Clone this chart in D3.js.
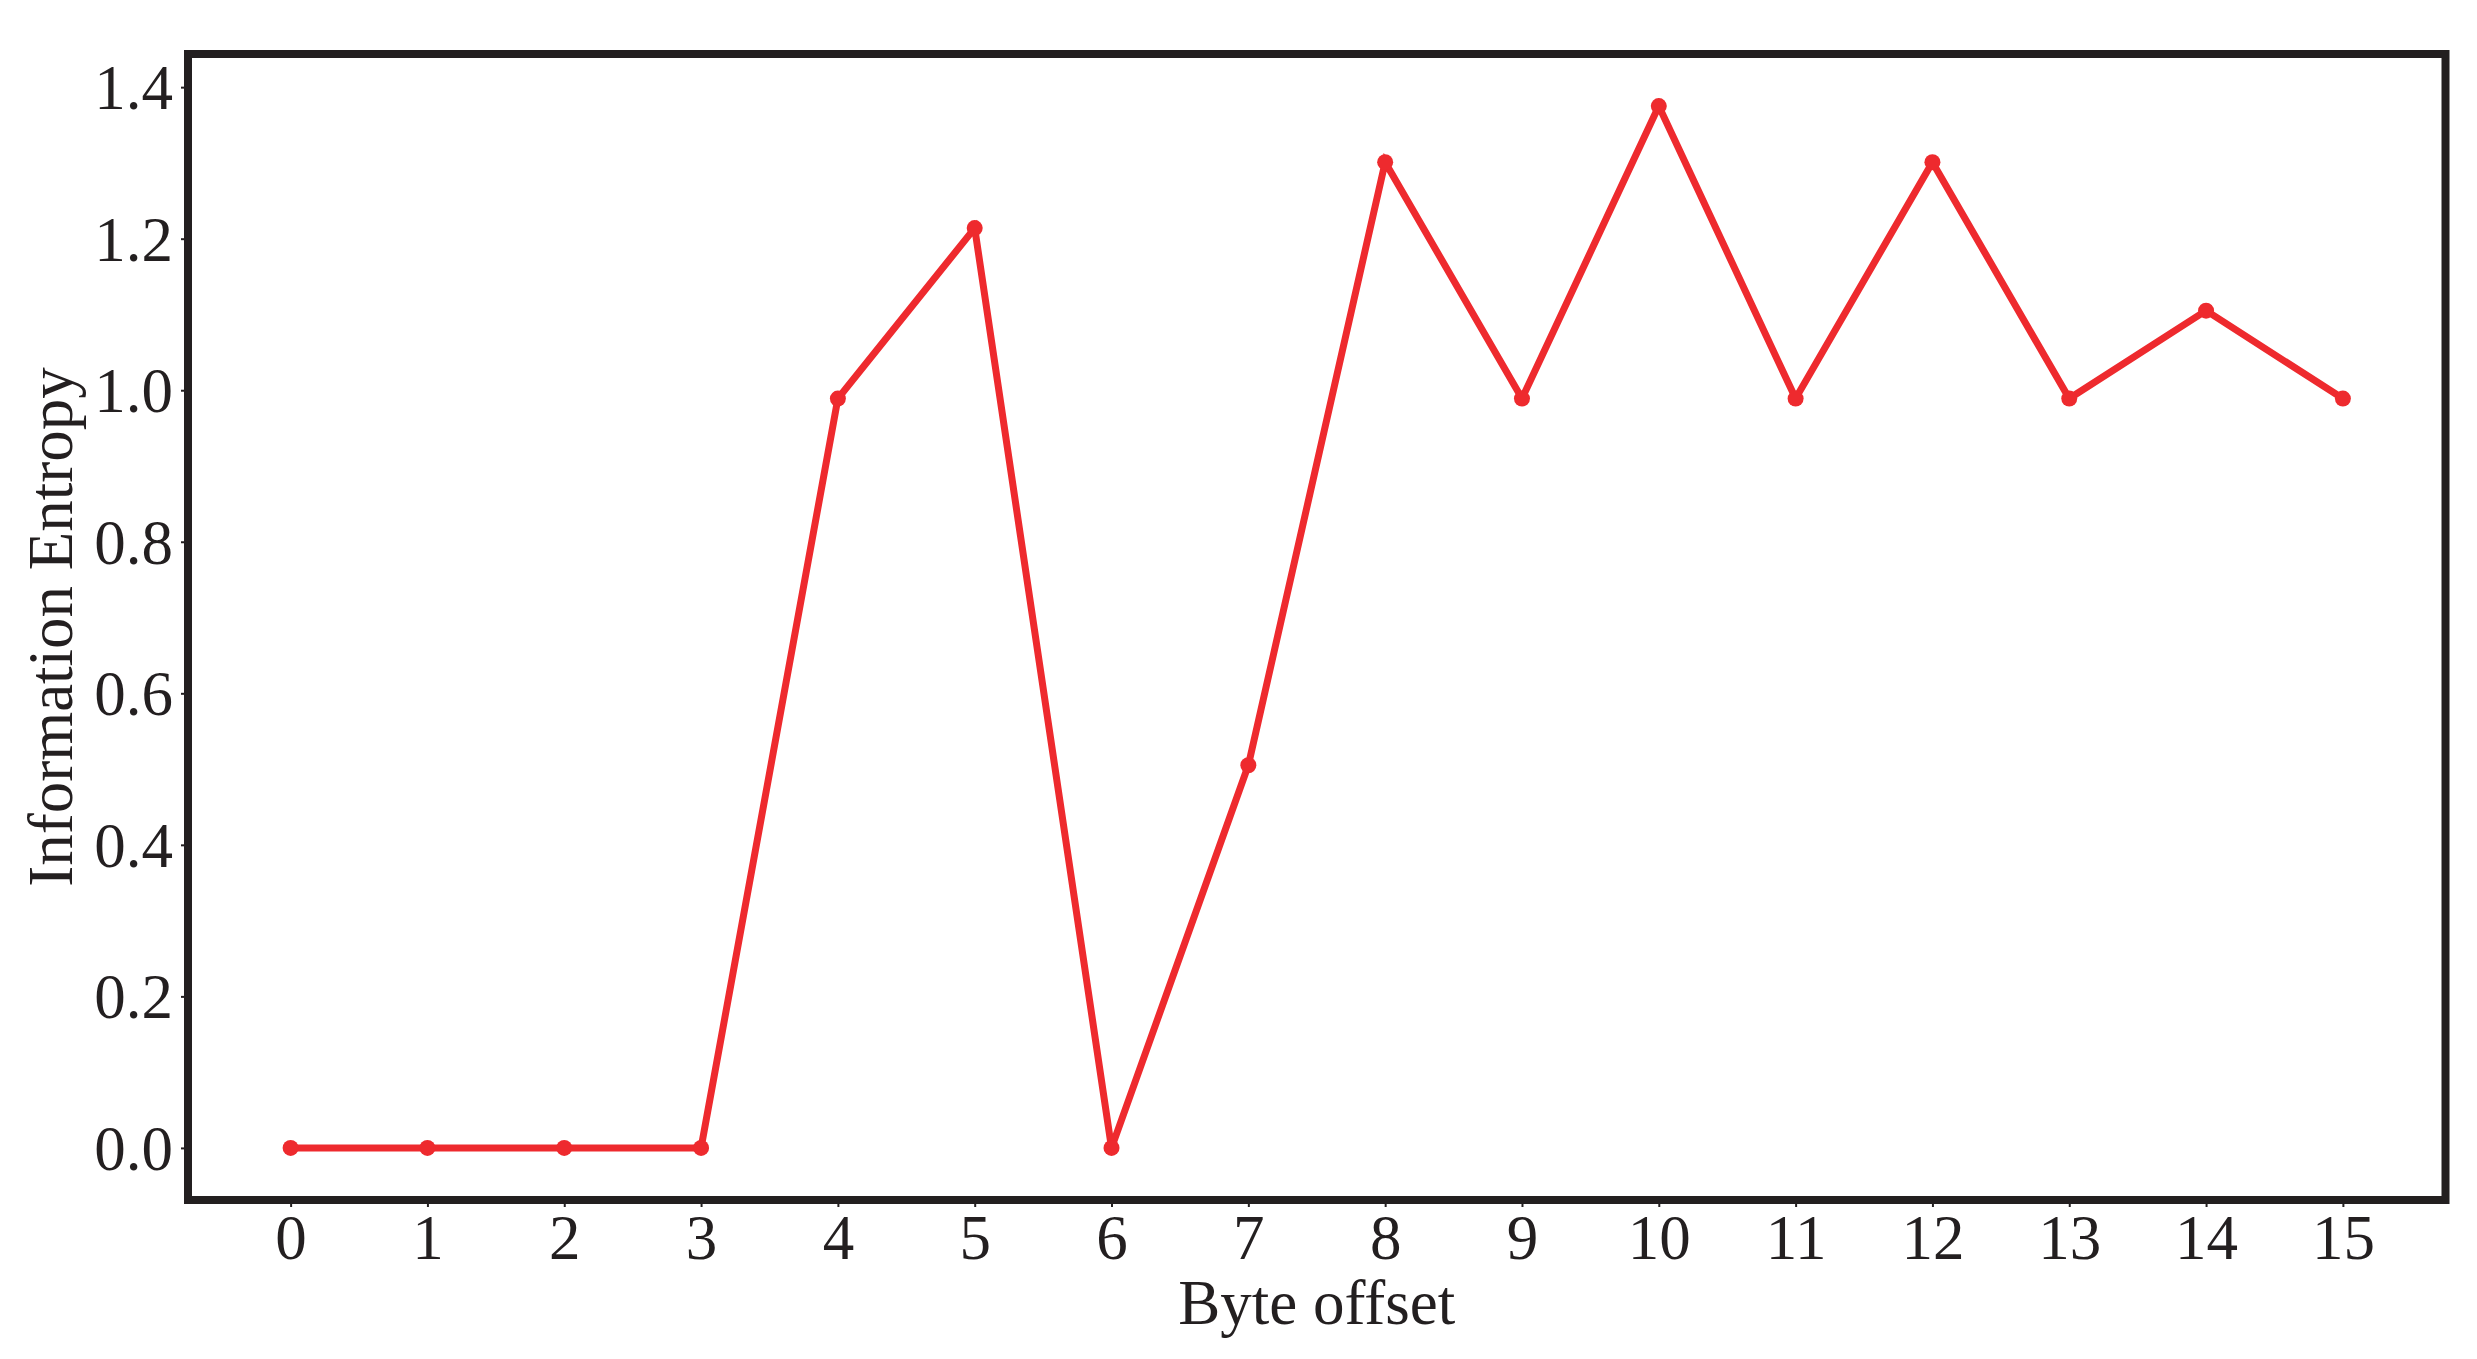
<!DOCTYPE html>
<html>
<head>
<meta charset="utf-8">
<script src="https://cdn.jsdelivr.net/npm/d3@7"></script>
<style>
  html, body { margin: 0; padding: 0; background: #fff; }
  svg { display: block; }
  text { font-family: "Liberation Serif", "Times New Roman", serif; fill: #231f20; }
</style>
</head>
<body>
<svg id="chart" width="2477" height="1359"></svg>
<script>
const offsets = [0, 1, 2, 3, 4, 5, 6, 7, 8, 9, 10, 11, 12, 13, 14, 15];
const entropy = [0, 0, 0, 0, 0.989, 1.214, 0, 0.505, 1.301, 0.989, 1.375, 0.989, 1.301, 0.989, 1.105, 0.989];
const yTicks = [0, 0.2, 0.4, 0.6, 0.8, 1.0, 1.2, 1.4];
const xLabel = "Byte offset";
const yLabel = "Information Entropy";

(function () {
const mLeft = 188, mRight = 2445.5, mTop = 54, mBottom = 1200;
const ink = "#231f20", red = "#ee2a2e";

const svg = d3.select("#chart");

const xPad = (d3.max(offsets) - d3.min(offsets)) * 0.05;
const yMax = d3.max(entropy), yMin = d3.min(entropy);
const yPad = (yMax - yMin) * 0.05;

const x = d3.scaleLinear().domain([d3.min(offsets) - xPad, d3.max(offsets) + xPad]).range([mLeft, mRight]);
const y = d3.scaleLinear().domain([yMin - yPad, yMax + yPad]).range([mBottom, mTop]);

const xAxis = d3.axisBottom(x).tickValues(offsets).tickFormat(d3.format("d")).tickSize(7).tickPadding(7);
const yAxis = d3.axisLeft(y).tickValues(yTicks).tickFormat(d3.format(".1f")).tickSize(7).tickPadding(8);

const gx = svg.append("g").attr("transform", `translate(0,${mBottom})`).call(xAxis);
const gy = svg.append("g").attr("transform", `translate(${mLeft},0)`).call(yAxis);
[gx, gy].forEach(g => {
  g.select(".domain").remove();
  g.selectAll(".tick line").attr("stroke", ink).attr("stroke-width", 2);
  g.selectAll(".tick text").attr("fill", ink).style("font-size", "63px")
    .style("font-family", '"Liberation Serif", "Times New Roman", serif');
});
gx.selectAll(".tick text").attr("dy", "0.71em");
gy.selectAll(".tick text").attr("dy", "0.34em");

const line = d3.line().x((d, i) => x(offsets[i])).y(d => y(d));
svg.append("path").datum(entropy)
  .attr("d", line).attr("fill", "none").attr("stroke", red)
  .attr("stroke-width", 7).attr("stroke-linejoin", "miter").attr("stroke-linecap", "butt");
svg.append("g").selectAll("circle").data(entropy).join("circle")
  .attr("cx", (d, i) => x(offsets[i])).attr("cy", d => y(d)).attr("r", 8).attr("fill", red);

svg.append("rect").attr("x", mLeft).attr("y", mTop).attr("width", mRight - mLeft).attr("height", mBottom - mTop)
  .attr("fill", "none").attr("stroke", ink).attr("stroke-width", 8);

svg.append("text").attr("x", (mLeft + mRight) / 2).attr("y", 1324)
  .attr("text-anchor", "middle").style("font-size", "63px").text(xLabel);
svg.append("text").attr("transform", `translate(72,${(mTop + mBottom) / 2}) rotate(-90)`)
  .attr("text-anchor", "middle").style("font-size", "63px").text(yLabel);
})();
</script>
</body>
</html>
